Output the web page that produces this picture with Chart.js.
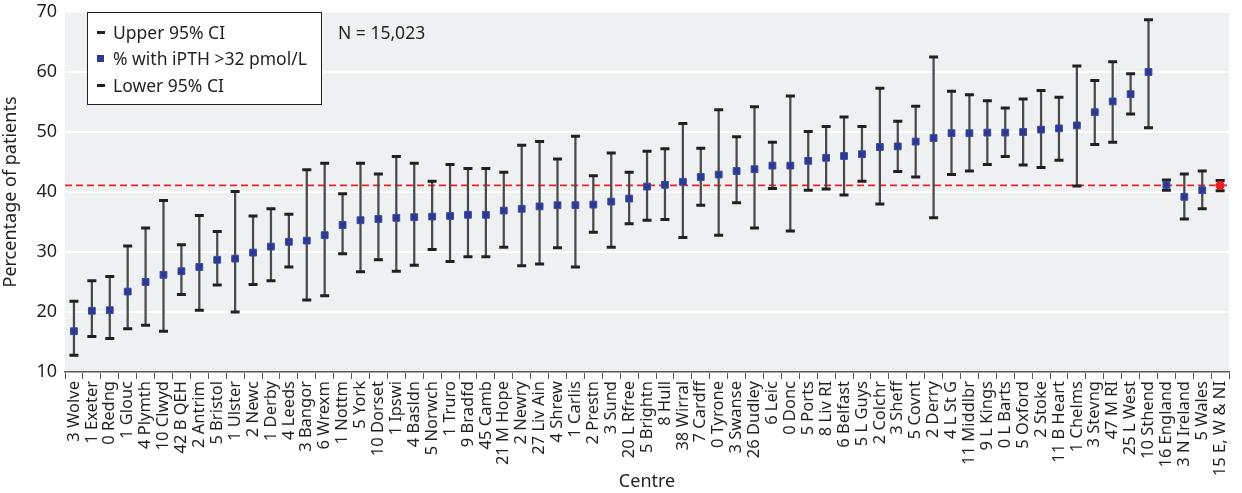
<!DOCTYPE html>
<html>
<head>
<meta charset="utf-8">
<title>iPTH &gt;32 pmol/L by centre</title>
<script src="https://cdn.jsdelivr.net/npm/chart.js@4.4.1/dist/chart.umd.min.js"></script>
<style>
  body { margin: 0; background: #fff; }
  #wrap { position: relative; width: 1242px; height: 493px; font-family: 'Noto Sans', sans-serif; color: #231f20; }
  #legend { position: absolute; left: 87px; top: 12px; width: 235px; height: 93px; box-sizing: border-box;
            border: 1px solid #231f20; background: #fff; font-size: 17.5px; }
  .row { position: absolute; left: 0; height: 20px; line-height: 20px; white-space: nowrap; }
  .row span { position: absolute; left: 25px; top: 0; }
  .dash { position: absolute; left: 9px; top: 9px; width: 8px; height: 3px; background: #231f20; }
  .sq { position: absolute; left: 9px; top: 7px; width: 7px; height: 7px; background: #2b3990; }
  #ntext { position: absolute; left: 338px; top: 20px; font-size: 17.5px; white-space: nowrap; }
</style>
</head>
<body>
<div id="wrap">
  <canvas id="chart" width="1242" height="493"></canvas>
  <div id="legend">
    <div class="row" style="top:9px"><div class="dash"></div><span>Upper 95% CI</span></div>
    <div class="row" style="top:35px"><div class="sq"></div><span>% with iPTH &gt;32 pmol/L</span></div>
    <div class="row" style="top:62px"><div class="dash"></div><span>Lower 95% CI</span></div>
  </div>
  <div id="ntext">N = 15,023</div>
</div>
<script>
// Centres, in plotted order
const centres = [
    '3 Wolve', '1 Exeter', '0 Redng', '1 Glouc', '4 Plymth', '10 Clwyd', '42 B QEH', '2 Antrim', '5 Bristol', '1 Ulster',
    '2 Newc', '1 Derby', '4 Leeds', '3 Bangor', '6 Wrexm', '1 Nottm', '5 York', '10 Dorset', '1 Ipswi', '4 Basldn',
    '5 Norwch', '1 Truro', '9 Bradfd', '45 Camb', '21 M Hope', '2 Newry', '27 Liv Ain', '4 Shrew', '1 Carlis', '2 Prestn',
    '3 Sund', '20 L Rfree', '5 Brightn', '8 Hull', '38 Wirral', '7 Cardff', '0 Tyrone', '3 Swanse', '26 Dudley', '6 Leic',
    '0 Donc', '5 Ports', '8 Liv RI', '6 Belfast', '5 L Guys', '2 Colchr', '3 Sheff', '5 Covnt', '2 Derry', '4 L St G',
    '11 Middlbr', '9 L Kings', '0 L Barts', '5 Oxford', '2 Stoke', '11 B Heart', '1 Chelms', '3 Stevng', '47 M RI', '25 L West',
    '10 Sthend', '16 England', '3 N Ireland', '5 Wales', '15 E, W & NI'
];

// % with iPTH > 32 pmol/L
const pct = [
    16.8, 20.2, 20.3, 23.4, 25.0, 26.2, 26.8, 27.5, 28.7, 28.9,
    29.9, 30.9, 31.7, 31.9, 32.8, 34.5, 35.3, 35.5, 35.7, 35.8,
    35.9, 36.0, 36.2, 36.2, 36.9, 37.2, 37.6, 37.8, 37.8, 37.9,
    38.4, 38.9, 40.9, 41.2, 41.7, 42.5, 42.9, 43.5, 43.8, 44.4,
    44.4, 45.2, 45.7, 46.0, 46.3, 47.5, 47.6, 48.4, 49.0, 49.8,
    49.8, 49.9, 49.9, 50.0, 50.4, 50.6, 51.1, 53.3, 55.1, 56.3,
    60.0, 41.2, 39.2, 40.3, 41.1
];

// Upper 95% CI
const upper = [
    21.8, 25.2, 25.9, 31.0, 34.0, 38.6, 31.2, 36.1, 33.4, 40.1,
    36.0, 37.2, 36.3, 43.7, 44.8, 39.7, 44.8, 43.0, 45.9, 44.8,
    41.8, 44.6, 43.9, 43.9, 43.3, 47.8, 48.4, 45.5, 49.3, 42.7,
    46.5, 43.3, 46.8, 47.2, 51.4, 47.3, 53.7, 49.2, 54.2, 48.3,
    56.0, 50.1, 50.9, 52.5, 50.9, 57.3, 51.8, 54.3, 62.5, 56.8,
    56.2, 55.2, 54.0, 55.5, 56.9, 55.8, 61.0, 58.6, 61.7, 59.7,
    68.7, 42.0, 43.0, 43.5, 41.9
];

// Lower 95% CI
const lower = [
    12.8, 15.9, 15.6, 17.2, 17.8, 16.8, 22.9, 20.3, 24.5, 20.0,
    24.6, 25.2, 27.5, 22.0, 22.7, 29.7, 26.7, 28.7, 26.8, 27.8,
    30.4, 28.4, 29.2, 29.2, 30.8, 27.7, 28.0, 30.7, 27.5, 33.3,
    30.8, 34.7, 35.3, 35.4, 32.4, 37.8, 32.8, 38.2, 34.0, 40.6,
    33.5, 40.3, 40.5, 39.5, 41.8, 38.0, 43.4, 42.5, 35.7, 42.9,
    43.5, 44.6, 45.9, 44.5, 44.1, 45.3, 41.0, 47.9, 48.3, 53.0,
    50.7, 40.3, 35.5, 37.2, 40.2
];

const overallPct = 41.1; // E, W & NI average, dashed line
const yTicks = [10, 20, 30, 40, 50, 60, 70];

const TEXT = '#231f20';
const FONT = "'Noto Sans', sans-serif";

// Grey plot background + dashed average line
const plotDecor = {
    id: 'plotDecor',
    beforeDraw(chart) {
        const { ctx, chartArea: a } = chart;
        ctx.save();
        ctx.fillStyle = '#eef0f2';
        ctx.fillRect(a.left, a.top, a.right - a.left, a.bottom - a.top);
        ctx.restore();
    },
    beforeDatasetsDraw(chart) {
        const { ctx, chartArea: a } = chart;
        const y = chart.scales.y.getPixelForValue(overallPct);
        ctx.save();
        ctx.strokeStyle = '#e8242b';
        ctx.lineWidth = 1.6;
        ctx.setLineDash([7, 4]);
        ctx.beginPath();
        ctx.moveTo(a.left, y);
        ctx.lineTo(a.right, y);
        ctx.stroke();
        ctx.restore();
    }
};

const last = centres.length - 1;

new Chart(document.getElementById('chart'), {
    type: 'bar',
    data: {
        labels: centres,
        datasets: [
            {
                // hi-lo lines
                type: 'bar',
                data: centres.map((c, i) => [lower[i], upper[i]]),
                backgroundColor: '#4a4a4a',
                barThickness: 1.6,
                order: 5
            },
            {
                type: 'line',
                label: 'Upper 95% CI',
                data: upper,
                showLine: false,
                pointStyle: 'line',
                pointRadius: 4.5,
                borderWidth: 3,
                borderColor: TEXT,
                order: 2
            },
            {
                type: 'line',
                label: 'Lower 95% CI',
                data: lower,
                showLine: false,
                pointStyle: 'line',
                pointRadius: 4.5,
                borderWidth: 3,
                borderColor: TEXT,
                order: 2
            },
            {
                type: 'line',
                label: '% with iPTH >32 pmol/L',
                data: pct,
                showLine: false,
                pointStyle: centres.map((c, i) => i === last ? 'circle' : 'rect'),
                pointRadius: centres.map((c, i) => i === last ? 4 : 4.8),
                pointBackgroundColor: centres.map((c, i) => i === last ? '#ed1c24' : '#2b3990'),
                pointBorderColor: centres.map((c, i) => i === last ? '#ed1c24' : '#3d4aa0'),
                pointBorderWidth: 1,
                order: 1
            }
        ]
    },
    options: {
        responsive: false,
        animation: false,
        devicePixelRatio: 1,
        layout: { padding: { top: 12, right: 3, left: 0, bottom: 0 } },
        plugins: {
            legend: { display: false },
            tooltip: { enabled: false }
        },
        scales: {
            x: {
                offset: true,
                grid: {
                    offset: true,
                    drawOnChartArea: false,
                    drawTicks: true,
                    tickLength: 7,
                    tickColor: '#58595b',
                    tickWidth: 1
                },
                border: { display: true, color: '#58595b', width: 1.5 },
                ticks: {
                    autoSkip: false,
                    maxRotation: 90,
                    minRotation: 90,
                    padding: 2,
                    color: TEXT,
                    font: { family: FONT, size: 16.5 }
                },
                title: {
                    display: true,
                    text: 'Centre',
                    color: TEXT,
                    padding: { top: 0, bottom: 0 },
                    font: { family: FONT, size: 18 }
                },
                afterFit(scale) { scale.height = 121; }
            },
            y: {
                min: 10,
                max: 70,
                afterBuildTicks(scale) { scale.ticks = yTicks.map(v => ({ value: v })); },
                grid: { color: '#ffffff', lineWidth: 2, drawTicks: false },
                border: { display: false },
                ticks: {
                    padding: 8,
                    color: TEXT,
                    font: { family: FONT, size: 18 }
                },
                title: {
                    display: true,
                    text: 'Percentage of patients',
                    color: TEXT,
                    padding: { top: 0, bottom: 0 },
                    font: { family: FONT, size: 18 }
                },
                afterFit(scale) {
                    scale.width = 65;
                    scale.paddingTop = 0;
                    scale.paddingBottom = 0;
                }
            }
        }
    },
    plugins: [plotDecor]
});
</script>
</body>
</html>
